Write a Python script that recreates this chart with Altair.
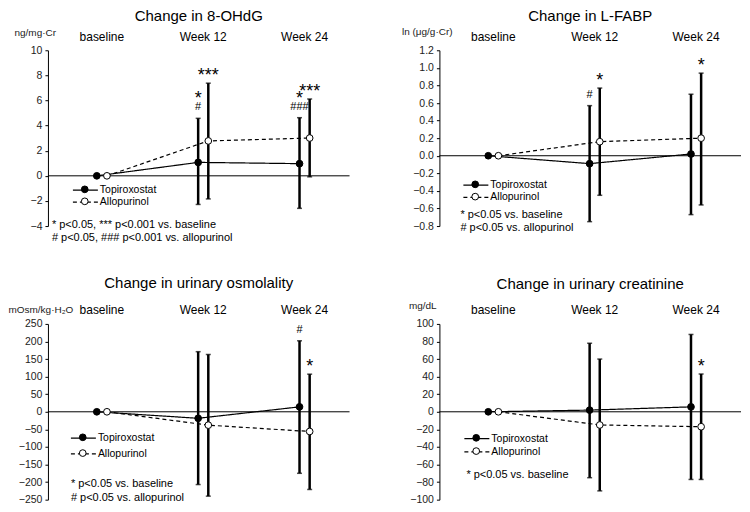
import altair as alt
import pandas as pd

FONT = "Liberation Sans"
TXT = "#222222"

timepoints = ["baseline", "Week 12", "Week 24"]
series_names = ["Topiroxostat", "Allopurinol"]

# ---- Panel 1: 8-OHdG ----
ohdg_title = "Change in 8-OHdG"
ohdg_unit = "ng/mg·Cr"
ohdg_topi_mean = [0.0, 1.07, 0.97]
ohdg_topi_upper = [None, 4.58, 4.63]
ohdg_topi_lower = [None, -2.28, -2.59]
ohdg_allo_mean = [0.0, 2.78, 3.01]
ohdg_allo_upper = [None, 7.38, 6.12]
ohdg_allo_lower = [None, -1.84, -0.08]
ohdg_ticks = [-4, -2, 0, 2, 4, 6, 8, 10]
ohdg_marks = [("Week 12", "Topiroxostat", "#"), ("Week 12", "Topiroxostat", "*"),
              ("Week 12", "Allopurinol", "***"), ("Week 24", "Topiroxostat", "###"),
              ("Week 24", "Topiroxostat", "*"), ("Week 24", "Allopurinol", "***")]
ohdg_notes = ["* p<0.05, *** p<0.001 vs. baseline", "# p<0.05, ### p<0.001 vs. allopurinol"]

# ---- Panel 2: L-FABP ----
lfabp_title = "Change in L-FABP"
lfabp_unit = "ln (μg/g·Cr)"
lfabp_topi_mean = [0.0, -0.09, 0.02]
lfabp_topi_upper = [None, 0.57, 0.70]
lfabp_topi_lower = [None, -0.75, -0.67]
lfabp_allo_mean = [0.0, 0.16, 0.20]
lfabp_allo_upper = [None, 0.77, 0.94]
lfabp_allo_lower = [None, -0.45, -0.56]
lfabp_ticks = [-0.8, -0.6, -0.4, -0.2, 0.0, 0.2, 0.4, 0.6, 0.8, 1.0, 1.2]
lfabp_marks = [("Week 12", "Topiroxostat", "#"), ("Week 12", "Allopurinol", "*"),
               ("Week 24", "Allopurinol", "*")]
lfabp_notes = ["* p<0.05 vs. baseline", "# p<0.05 vs. allopurinol"]

# ---- Panel 3: urinary osmolality ----
osm_title = "Change in urinary osmolality"
osm_unit = "mOsm/kg·H₂O"
osm_topi_mean = [0.0, -18.5, 14.0]
osm_topi_upper = [None, 171.0, 202.0]
osm_topi_lower = [None, -207.0, -175.0]
osm_allo_mean = [0.0, -38.0, -56.0]
osm_allo_upper = [None, 163.0, 107.0]
osm_allo_lower = [None, -240.0, -221.0]
osm_ticks = [-250, -200, -150, -100, -50, 0, 50, 100, 150, 200, 250]
osm_marks = [("Week 24", "Topiroxostat", "#"), ("Week 24", "Allopurinol", "*")]
osm_notes = ["* p<0.05 vs. baseline", "# p<0.05 vs. allopurinol"]

# ---- Panel 4: urinary creatinine ----
cre_title = "Change in urinary creatinine"
cre_unit = "mg/dL"
cre_topi_mean = [0.0, 1.9, 5.6]
cre_topi_upper = [None, 78.0, 88.0]
cre_topi_lower = [None, -75.0, -77.0]
cre_allo_mean = [0.0, -15.0, -17.0]
cre_allo_upper = [None, 60.0, 43.0]
cre_allo_lower = [None, -90.0, -77.0]
cre_ticks = [-100, -80, -60, -40, -20, 0, 20, 40, 60, 80, 100]
cre_marks = [("Week 24", "Allopurinol", "*")]
cre_notes = ["* p<0.05 vs. baseline"]

W, H = 302, 176
LINE_SYMBOL = "M-2.5,0L2.5,0"


def frame(tm, tu, tl, am, au, al):
    rows = []
    for s, (m, u, l) in zip(series_names, [(tm, tu, tl), (am, au, al)]):
        for i, t in enumerate(timepoints):
            rows.append({"time": t, "idx": i, "series": s, "series_b": s,
                         "mean": m[i], "upper": u[i], "lower": l[i]})
    return pd.DataFrame(rows)


def marks_frame(df, marks):
    rows = []
    hashed = {(t, s) for t, s, txt in marks if "#" in txt}
    for t, s, txt in marks:
        up = df[(df.time == t) & (df.series == s)]["upper"].iloc[0]
        kind = "hash" if "#" in txt else ("star_hi" if (t, s) in hashed else "star")
        rows.append({"time": t, "series": s, "label": txt, "upper": up, "kind": kind})
    return pd.DataFrame(rows)


def panel(title, unit, data, ticks, fmt, marks, notes, unit_xy, leg, note_xy, title_off):
    df = frame(*data)
    lo, hi = ticks[0], ticks[-1]
    yscale = alt.Scale(domain=[lo, hi], nice=False, zero=False)
    yaxis = alt.Axis(values=ticks, format=fmt, title=unit, titleAngle=0, titleAlign="left",
                     titleBaseline="middle", titleX=unit_xy[0], titleY=unit_xy[1],
                     titleFont=FONT, titleFontSize=10, titleFontWeight="normal", titleColor=TXT,
                     labelFont=FONT, labelFontSize=10.5, labelColor=TXT, labelPadding=3,
                     tickSize=3, tickColor="black", domainColor="black", grid=False)

    def Y(field):
        return alt.Y(field, scale=yscale, axis=yaxis)

    xenc = alt.X("time:N", sort=timepoints,
                 scale=alt.Scale(domain=timepoints, paddingInner=0.6, paddingOuter=0.2877, align=0.577),
                 axis=alt.Axis(orient="top", title=None, labelAngle=0, domain=False, ticks=False,
                               tickSize=0, labelPadding=7, labelFontSize=12, labelFont=FONT,
                               labelColor="black"))
    xoff = alt.XOffset("series:N", sort=series_names,
                       scale=alt.Scale(domain=series_names, paddingInner=0, paddingOuter=1))

    base = alt.Chart(df)
    zero = alt.Chart(alt.Data(values=[{"z": 0}])).mark_rule(color="black", strokeWidth=1).encode(
        y=Y("z:Q"))
    lx, ly, rp = leg
    lines = base.mark_line(color="black", strokeWidth=1.2).encode(
        x=xenc, xOffset=xoff, y=Y("mean:Q"),
        order=alt.Order("idx:Q"),
        strokeDash=alt.StrokeDash("series:N", sort=series_names,
                                  scale=alt.Scale(domain=series_names, range=[[1, 0], [4, 3]]),
                                  legend=alt.Legend(orient="none", legendX=lx + 7.5, legendY=ly, title=None,
                                                    symbolType=LINE_SYMBOL, symbolSize=100,
                                                    symbolStrokeWidth=1.2, symbolStrokeColor="black",
                                                    symbolFillColor="transparent",
                                                    labelFont=FONT, labelFontSize=10.5, labelColor="black",
                                                    labelOffset=8.5, rowPadding=rp, padding=0)))
    bars = base.mark_rule(color="black", strokeWidth=2.5).encode(
        x=xenc, xOffset=xoff, y=Y("upper:Q"), y2="lower:Q")
    cap_u = base.mark_tick(color="black", thickness=1.5, size=5).encode(
        x=xenc, xOffset=xoff, y=Y("upper:Q"))
    cap_l = base.mark_tick(color="black", thickness=1.5, size=5).encode(
        x=xenc, xOffset=xoff, y=Y("lower:Q"))
    pts = base.mark_point(shape="circle", filled=True, size=45, stroke="black", strokeWidth=1,
                          opacity=1).encode(
        x=xenc, xOffset=xoff, y=Y("mean:Q"),
        fill=alt.Fill("series_b:N", sort=series_names,
                      scale=alt.Scale(domain=series_names, range=["black", "white"]),
                      legend=alt.Legend(orient="none", legendX=lx + 7.6, legendY=ly, title=None,
                                        symbolType="circle", symbolSize=45, symbolStrokeColor="black",
                                        symbolStrokeWidth=1, labelFont=FONT, labelFontSize=10.5,
                                        labelExpr="' '", labelOpacity=0, labelOffset=1,
                                        rowPadding=rp, padding=0, zindex=1)))
    layers = [zero, lines, bars, cap_u, cap_l, pts]
    mdf = marks_frame(df, marks)
    for kind, size, dy in [("hash", 11, -8), ("star", 18, -2), ("star_hi", 18, -14)]:
        sub = mdf[mdf.kind == kind]
        if len(sub):
            layers.append(alt.Chart(sub).mark_text(font=FONT, fontSize=size, baseline="alphabetic",
                                                   color="black", dy=dy).encode(
                x=xenc, xOffset=xoff, y=Y("upper:Q"), text="label:N"))
    nx, ny, nlh = note_xy
    note = alt.Chart(alt.Data(values=[{"note": "\n".join(notes)}])).mark_text(
        align="left", baseline="top", font=FONT, fontSize=11, lineBreak="\n", lineHeight=nlh,
        color="black").encode(x=alt.value(nx), y=alt.value(ny), text="note:N")
    layers.append(note)
    return alt.layer(*layers).resolve_legend(strokeDash="independent", fill="independent").properties(
        width=W, height=H,
        title=alt.TitleParams(title, font=FONT, fontSize=15, fontWeight="normal", color="black",
                              anchor="middle", frame="group", offset=title_off))


p1 = panel(ohdg_title, ohdg_unit,
           (ohdg_topi_mean, ohdg_topi_upper, ohdg_topi_lower, ohdg_allo_mean, ohdg_allo_upper, ohdg_allo_lower),
           ohdg_ticks, "d", ohdg_marks, ohdg_notes, (-34, -18), (24, 134, 0), (4, 169, 13), 3)
p2 = panel(lfabp_title, lfabp_unit,
           (lfabp_topi_mean, lfabp_topi_upper, lfabp_topi_lower, lfabp_allo_mean, lfabp_allo_upper, lfabp_allo_lower),
           lfabp_ticks, ".1f", lfabp_marks, lfabp_notes, (-38, -19), (23, 129, 0.3), (21, 159, 13), 2)
p3 = panel(osm_title, osm_unit,
           (osm_topi_mean, osm_topi_upper, osm_topi_lower, osm_allo_mean, osm_allo_upper, osm_allo_lower),
           osm_ticks, "d", osm_marks, osm_notes, (-40, -14), (22, 108.3, 3.8), (23, 154.5, 14), 13)
p4 = panel(cre_title, cre_unit,
           (cre_topi_mean, cre_topi_upper, cre_topi_lower, cre_allo_mean, cre_allo_upper, cre_allo_lower),
           cre_ticks, "d", cre_marks, cre_notes, (-31, -18), (24, 108.8, 1.3), (27, 145, 13), 9)

chart = alt.concat(p1, p2, p3, p4, columns=2, spacing={"row": 33, "column": 51}).properties(
    padding={"left": 0, "top": 1, "right": 0, "bottom": 0}
).configure(background="white").configure_view(stroke=None)

chart.save("out.html", embed_options={"renderer": "svg", "actions": False})
